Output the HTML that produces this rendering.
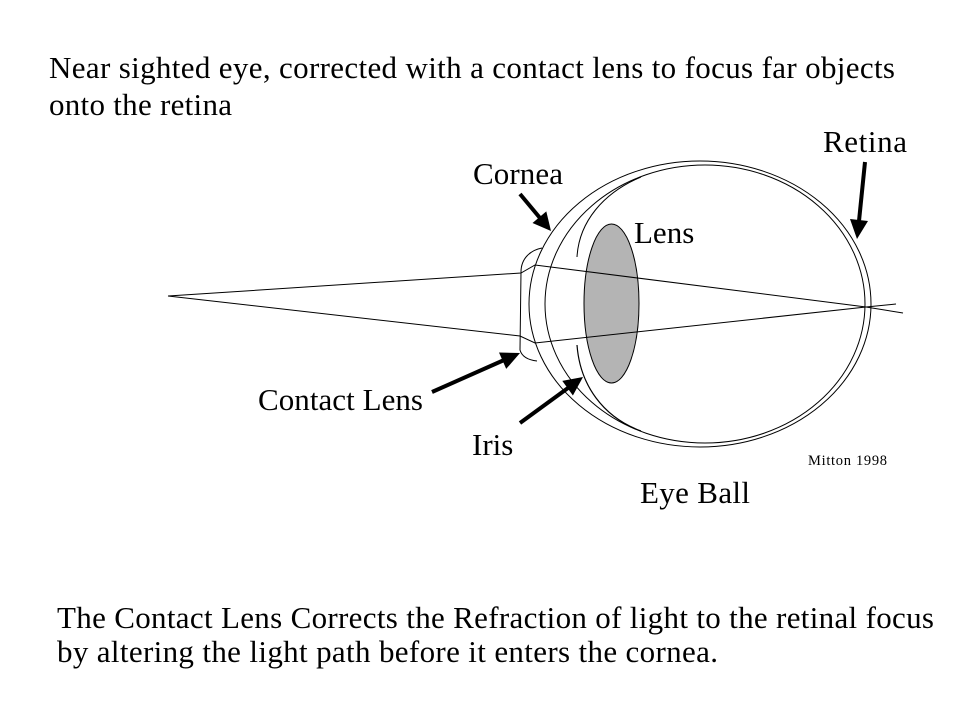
<!DOCTYPE html>
<html>
<head>
<meta charset="utf-8">
<style>
  html, body { margin: 0; padding: 0; background: #ffffff; }
  body { width: 959px; height: 719px; overflow: hidden; }
  svg { display: block; }
  text { font-family: "Liberation Serif", "Times New Roman", serif; fill: #000; }
</style>
</head>
<body>
<svg width="959" height="719" viewBox="0 0 959 719" xmlns="http://www.w3.org/2000/svg">
  <rect x="0" y="0" width="959" height="719" fill="#ffffff"/>

  <!-- Title text -->
  <text x="49" y="78" font-size="31" textLength="846" lengthAdjust="spacing">Near sighted eye, corrected with a contact lens to focus far objects</text>
  <text x="49" y="115" font-size="31" textLength="183" lengthAdjust="spacing">onto the retina</text>

  <!-- Eye ball outlines -->
  <ellipse cx="700" cy="304" rx="171" ry="143" fill="none" stroke="#000" stroke-width="1"/>
  <ellipse cx="705" cy="304" rx="160" ry="139" fill="none" stroke="#000" stroke-width="1"/>

  <!-- Iris / ciliary arcs -->
  <path d="M577,257 C579,222 603,193 641,177" fill="none" stroke="#000" stroke-width="1"/>
  <path d="M577,345 C580,385 603,417 641,431" fill="none" stroke="#000" stroke-width="1.2"/>

  <!-- Crystalline lens -->
  <ellipse cx="611.5" cy="303.5" rx="27.5" ry="79.5" fill="#b4b4b4" stroke="#000" stroke-width="1"/>

  <!-- Contact lens -->
  <path d="M542,248 C531,250 521,258 521,272 L520,350 C522,357 528,360 537,361" fill="none" stroke="#000" stroke-width="1"/>

  <!-- Light rays -->
  <polyline points="168,296 521,273 535,265 866,307 903,313" fill="none" stroke="#000" stroke-width="1"/>
  <polyline points="168,296 520,336 535,343 866,307 896,304" fill="none" stroke="#000" stroke-width="1"/>

  <!-- Arrows -->
  <line x1="865" y1="162" x2="859" y2="221" stroke="#000" stroke-width="4"/>
  <polygon points="857,239 868,221 850,219" fill="#000"/>
  <line x1="520" y1="194" x2="540" y2="218" stroke="#000" stroke-width="4"/>
  <polygon points="551,231 546.3,211.4 532.5,223" fill="#000"/>
  <line x1="432" y1="392" x2="503" y2="360.5" stroke="#000" stroke-width="4"/>
  <polygon points="520,353 506.2,368.9 499,352.5" fill="#000"/>
  <line x1="520" y1="423" x2="568" y2="388" stroke="#000" stroke-width="4"/>
  <polygon points="583,377 572.9,395.5 562.3,380.9" fill="#000"/>

  <!-- Labels -->
  <text x="823" y="152" font-size="31" textLength="84" lengthAdjust="spacing">Retina</text>
  <text x="473" y="184" font-size="31" textLength="90" lengthAdjust="spacing">Cornea</text>
  <text x="634" y="243" font-size="31">Lens</text>
  <text x="258" y="410" font-size="31" textLength="165" lengthAdjust="spacing">Contact Lens</text>
  <text x="472" y="455" font-size="31">Iris</text>
  <text x="808" y="465" font-size="14.5" textLength="79" lengthAdjust="spacing">Mitton 1998</text>
  <text x="640" y="503" font-size="31" textLength="110" lengthAdjust="spacing">Eye Ball</text>

  <!-- Bottom caption -->
  <text x="57" y="628" font-size="31" textLength="877" lengthAdjust="spacing">The Contact Lens Corrects the Refraction of light to the retinal focus</text>
  <text x="57" y="662" font-size="31" textLength="661" lengthAdjust="spacing">by altering the light path before it enters the cornea.</text>
</svg>
</body>
</html>
